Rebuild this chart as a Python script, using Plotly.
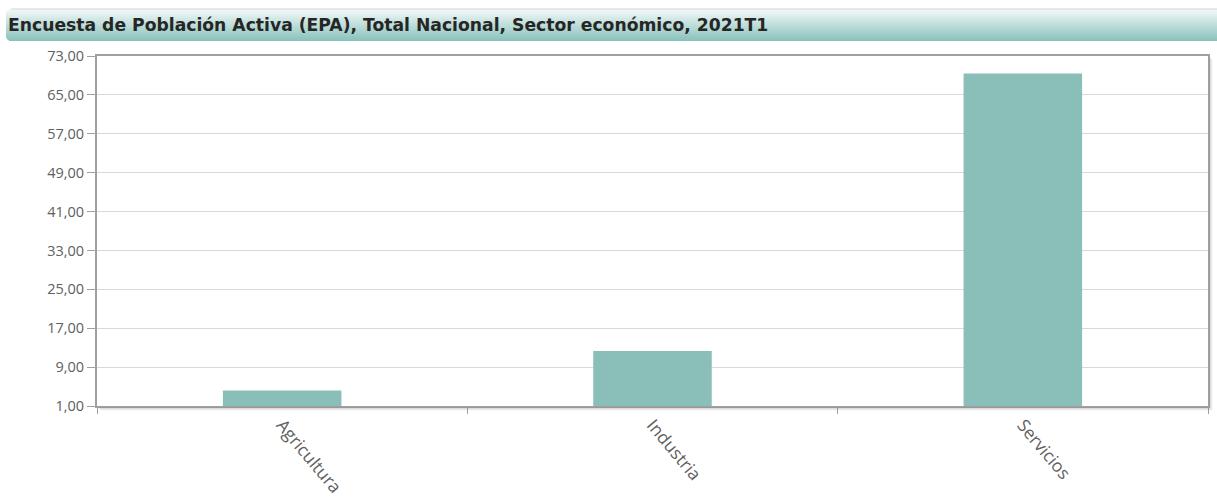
import plotly.graph_objects as go

# Encuesta de Población Activa, 2021T1 - distribution by economic sector
sectores = ["Agricultura", "Industria", "Servicios"]
valores = [4.2, 12.3, 69.4]
y_ticks = [1, 9, 17, 25, 33, 41, 49, 57, 65, 73]
titulo = "Encuesta de Población Activa (EPA), Total Nacional, Sector económico, 2021T1"

W, H = 1217, 499
ML, MR, MT, MB = 97, 9, 56, 93
PW, PH = W - ML - MR, H - MT - MB


def px_x(x):
    return (x - ML) / PW


def px_y(y):
    return (MT + PH - y) / PH


fig = go.Figure()
fig.add_trace(go.Bar(
    x=sectores,
    y=valores,
    marker=dict(color="#8abeb8", line=dict(width=0)),
    hoverinfo="x+y",
))

shapes = []

# header band with a vertical gradient and rounded corners
top, bottom, left, right = 9, 41, 6, 1222
c_top = (242, 249, 248)
c_bot = (138, 194, 188)
n = bottom - top
r = 5
for i in range(n):
    t = i / (n - 1)
    col = tuple(round(c_top[k] + (c_bot[k] - c_top[k]) * t) for k in range(3))
    d = min(i + 0.5, n - i - 0.5)
    inset = 0
    if d < r:
        inset = r - (r ** 2 - (r - d) ** 2) ** 0.5
    shapes.append(dict(
        type="rect", xref="paper", yref="paper", layer="below",
        x0=px_x(left + inset), x1=px_x(right),
        y0=px_y(top + i + 1), y1=px_y(top + i),
        line=dict(width=0), fillcolor="rgb(%d,%d,%d)" % col,
    ))
shapes.append(dict(
    type="line", xref="paper", yref="paper",
    x0=px_x(left + r), x1=px_x(right), y0=px_y(top), y1=px_y(top),
    line=dict(color="#c9d6d4", width=1),
))

# soft shadow along the right and bottom edges of the plot frame
for k, op in enumerate([0.35, 0.2, 0.1]):
    off = 2 + k
    shapes.append(dict(
        type="line", xref="paper", yref="paper",
        x0=px_x(ML + PW + off), x1=px_x(ML + PW + off),
        y0=px_y(MT + 2 + k), y1=px_y(MT + PH + off),
        line=dict(color="rgba(120,120,120,%.2f)" % op, width=1),
    ))
    shapes.append(dict(
        type="line", xref="paper", yref="paper",
        x0=px_x(ML + 2 + k), x1=px_x(ML + PW + off),
        y0=px_y(MT + PH + off), y1=px_y(MT + PH + off),
        line=dict(color="rgba(120,120,120,%.2f)" % op, width=1),
    ))

fig.update_layout(
    width=W, height=H, autosize=False,
    margin=dict(l=ML, r=MR, t=MT, b=MB, pad=0, autoexpand=False),
    paper_bgcolor="white", plot_bgcolor="white",
    separators=",.",
    showlegend=False,
    bargap=0.68,
    shapes=shapes,
    title=dict(
        text="<b>" + titulo + "</b>",
        xref="container", yref="container",
        x=8 / W, xanchor="left",
        y=1 - 25 / H, yanchor="middle",
        font=dict(family="DejaVu Sans, sans-serif", size=17.2, color="#262626"),
    ),
    font=dict(family="Open Sans, sans-serif", size=14, color="#606060"),
)

fig.update_xaxes(
    type="category",
    automargin=False,
    tickangle=50,
    tickson="boundaries",
    ticks="outside", ticklen=6, tickcolor="#a0a0a0", tickwidth=1,
    showline=True, linecolor="#a0a0a0", linewidth=2, mirror=True,
    showgrid=False,
    tickfont=dict(size=17.5, color="#606060"),
)
fig.update_yaxes(
    automargin=False,
    range=[1, 73],
    tickvals=y_ticks,
    tickformat=".2f",
    ticks="outside", ticklen=8, tickcolor="#a0a0a0", tickwidth=1,
    showline=True, linecolor="#a0a0a0", linewidth=2, mirror=True,
    showgrid=True, gridcolor="#d9d9d9", gridwidth=1,
    zeroline=False,
    tickfont=dict(size=14.5, color="#606060"),
)

fig.write_html("out.html")
